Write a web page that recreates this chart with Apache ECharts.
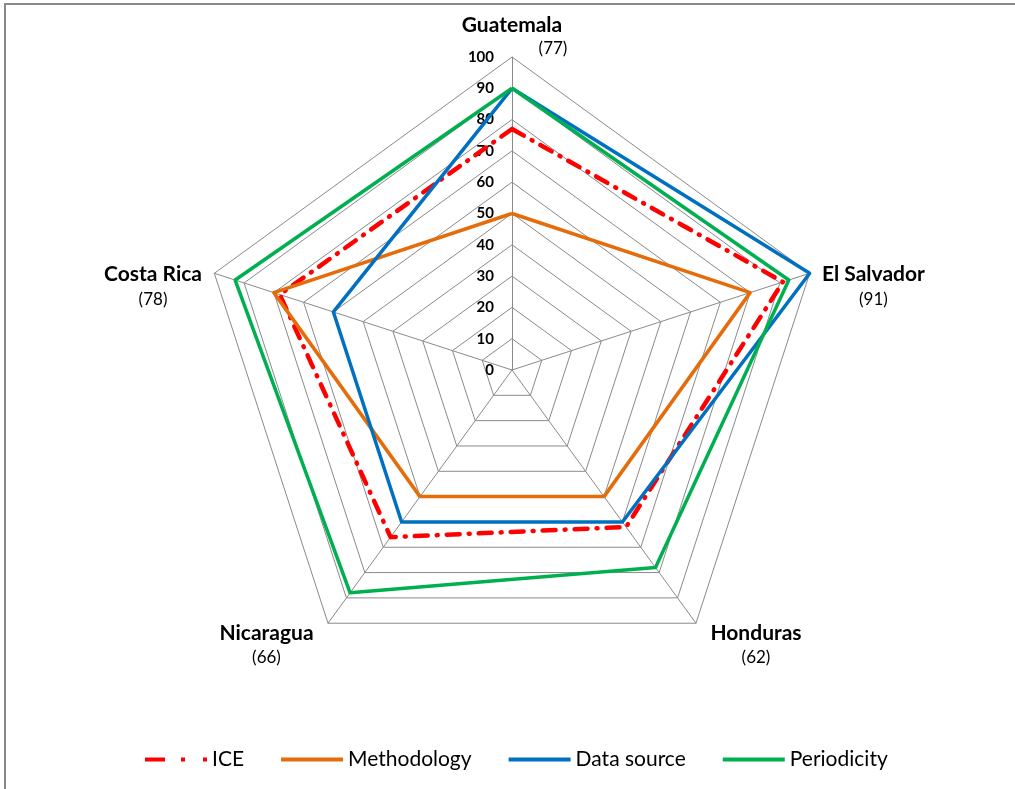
<!DOCTYPE html>
<html>
<head>
<meta charset="utf-8">
<script src="https://cdn.jsdelivr.net/npm/echarts@6/dist/echarts.min.js"></script>
<style>
html,body{margin:0;padding:0;background:#fff;}
#chart{width:1015px;height:789px;}
</style>
</head>
<body>
<div id="chart"></div>
<script>
// Categories listed counter-clockwise from the top (ECharts radar order)
var categories = ['Guatemala', 'Costa Rica', 'Nicaragua', 'Honduras', 'El Salvador'];
var iceValues = [77, 78, 66, 62, 91];
var methodologyValues = [50, 80, 50, 50, 80];
var dataSourceValues = [90, 60, 60, 60, 100];
var periodicityValues = [90, 93, 88, 78, 93];
var seriesNames = ['ICE', 'Methodology', 'Data source', 'Periodicity'];
var tickMax = 100;

var FONT = 'Lato';
var chart = echarts.init(document.getElementById('chart'), null, {renderer: 'canvas'});

var indicators = categories.map(function (c, i) {
  var ind = {name: c, max: tickMax, min: 0, nameMoveOverlap: false};
  if (i !== 0) ind.axisLabel = {show: false};
  return ind;
});

function nameFormatter(name) {
  var idx = categories.indexOf(name);
  var v = iceValues[idx];
  if (name === 'Guatemala') return '{ng|' + name + '}\n{vg|(' + v + ')}';
  if (name === 'Honduras' || name === 'Nicaragua') return '{sp| }\n{n|' + name + '}\n{v|(' + v + ')}';
  return '{n|' + name + '}\n{v|(' + v + ')}';
}

var lineW = 3.5;
var iceIcon = 'path://M0,0h20v4h-20z M36,0h4v4h-4z M58,0h4v4h-4z';
var option = {
  backgroundColor: '#ffffff',
  animation: false,
  graphic: [{
    type: 'rect',
    shape: {x: 5, y: 4, width: 1100, height: 900},
    style: {fill: 'none', stroke: '#898989', lineWidth: 2},
    silent: true
  }],
  legend: {
    data: [
      {name: seriesNames[0], icon: iceIcon},
      {name: seriesNames[1], icon: 'rect'},
      {name: seriesNames[2], icon: 'rect'},
      {name: seriesNames[3], icon: 'rect'}
    ],
    left: 140,
    top: 744,
    itemWidth: 62,
    itemHeight: 4,
    itemGap: 37,
    textStyle: {fontFamily: FONT, fontSize: 21, color: '#000'}
  },
  radar: {
    center: [512, 370],
    radius: 313,
    startAngle: 90,
    shape: 'polygon',
    splitNumber: 10,
    axisNameGap: -6,
    nameMoveOverlap: false,
    axisName: {
      formatter: nameFormatter,
      padding: [24, 18, 0, 18],
      rich: {
        sp: {fontFamily: FONT, fontSize: 10, lineHeight: 30},
        n: {fontFamily: FONT, fontWeight: 'bold', fontSize: 21, color: '#000', lineHeight: 25, align: 'center'},
        ng: {fontFamily: FONT, fontWeight: 'bold', fontSize: 21, color: '#000', lineHeight: 25, align: 'center', padding: [0, 0, 6, 0]},
        v: {fontFamily: FONT, fontSize: 17, color: '#000', lineHeight: 25, align: 'center'},
        vg: {fontFamily: FONT, fontSize: 17, color: '#000', lineHeight: 22, align: 'center', padding: [0, 0, 6, 82]}
      }
    },
    indicator: indicators,
    axisLine: {show: true, lineStyle: {color: '#8a8a8a', width: 1}},
    splitLine: {show: true, lineStyle: {color: '#8a8a8a', width: 1}},
    splitArea: {show: false},
    axisTick: {show: false},
    axisLabel: {
      show: true,
      margin: 18,
      fontFamily: FONT,
      fontWeight: 'bold',
      fontSize: 15,
      color: '#000',
      showMinLabel: true,
      showMaxLabel: true
    }
  },
  series: [{
    type: 'radar',
    symbol: 'none',
    data: [
      {name: seriesNames[0], value: iceValues,
        lineStyle: {color: '#ff0000', width: 4.5, type: [13, 9, 1, 9], cap: 'round'},
        itemStyle: {color: '#ff0000'}},
      {name: seriesNames[1], value: methodologyValues,
        lineStyle: {color: '#e46c0a', width: lineW}, itemStyle: {color: '#e46c0a'}},
      {name: seriesNames[2], value: dataSourceValues,
        lineStyle: {color: '#0070c0', width: lineW}, itemStyle: {color: '#0070c0'}},
      {name: seriesNames[3], value: periodicityValues,
        lineStyle: {color: '#00b050', width: lineW}, itemStyle: {color: '#00b050'}}
    ]
  }]
};
chart.setOption(option);
</script>
</body>
</html>
